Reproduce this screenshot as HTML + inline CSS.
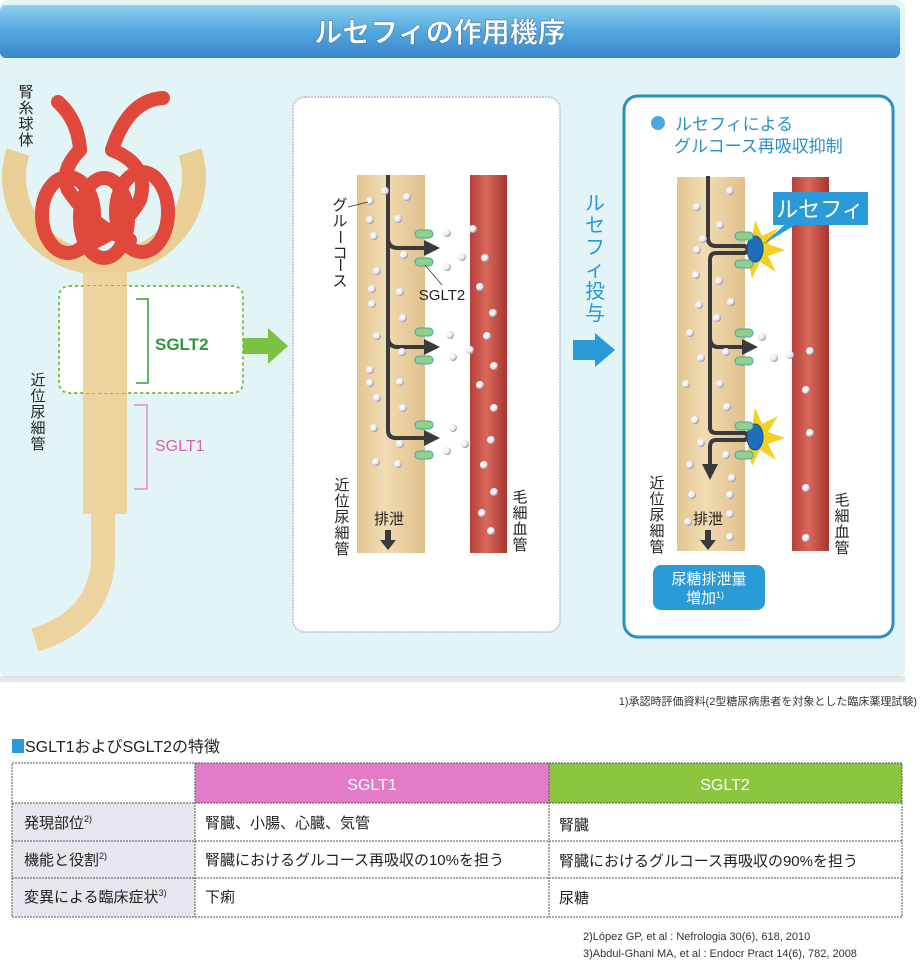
<!DOCTYPE html>
<html><head><meta charset="utf-8"><style>
html,body{margin:0;padding:0;background:#fff;}
svg{display:block;font-family:"Liberation Sans","Noto Sans CJK JP",sans-serif;}
</style></head><body>
<svg width="920" height="969" viewBox="0 0 920 969" xmlns="http://www.w3.org/2000/svg">
<defs>
<linearGradient id="hdr" x1="0" y1="0" x2="0" y2="1"><stop offset="0" stop-color="#8fd0ee"/><stop offset="0.5" stop-color="#52a7de"/><stop offset="1" stop-color="#3a86cc"/></linearGradient>
<linearGradient id="tub" x1="0" y1="0" x2="1" y2="0"><stop offset="0" stop-color="#e3c48f"/><stop offset="0.4" stop-color="#f1dcb4"/><stop offset="1" stop-color="#e0c08a"/></linearGradient>
<linearGradient id="cap" x1="0" y1="0" x2="1" y2="0"><stop offset="0" stop-color="#b8403a"/><stop offset="0.45" stop-color="#d9685a"/><stop offset="1" stop-color="#a8352f"/></linearGradient>
<radialGradient id="dot" cx="0.35" cy="0.35" r="0.7"><stop offset="0" stop-color="#fff"/><stop offset="0.6" stop-color="#e8e8ee"/><stop offset="1" stop-color="#8a8aa0"/></radialGradient>
<marker id="ah" markerWidth="4" markerHeight="4" refX="2" refY="2" orient="auto" markerUnits="strokeWidth"><path d="M0,0 L4,2 L0,4 z" fill="#3a3a3a"/></marker>
</defs>
<rect x="0" y="0" width="905" height="678" rx="8" fill="#e3f4f7"/>
<rect x="0" y="676" width="905" height="6" fill="#d6d6de" opacity="0.6"/>
<rect x="0" y="5" width="900" height="53" rx="6" fill="url(#hdr)"/>
<text x="440" y="42" text-anchor="middle" font-size="28" font-weight="bold" fill="#fff" stroke="#3b6fa8" stroke-width="0.5">ルセフィの作用機序</text>

<g font-size="15" fill="#222">
<text x="26" y="97" text-anchor="middle">腎</text><text x="26" y="113" text-anchor="middle">糸</text><text x="26" y="129" text-anchor="middle">球</text><text x="26" y="145" text-anchor="middle">体</text>
<text x="38" y="385" text-anchor="middle">近</text><text x="38" y="401" text-anchor="middle">位</text><text x="38" y="417" text-anchor="middle">尿</text><text x="38" y="433" text-anchor="middle">細</text><text x="38" y="449" text-anchor="middle">管</text>
</g>
<path d="M18,152 A90,86 0 1 0 190,152" fill="none" stroke="#e9cf95" stroke-width="24"/>
<rect x="83" y="272" width="44" height="242" fill="#ecd3a0"/>
<path d="M103,512 L103,560 Q100,620 35,640" fill="none" stroke="#ecd3a0" stroke-width="24"/>
<g fill="none" stroke="#e0483c" stroke-width="14" stroke-linecap="round">
<path d="M58,102 Q78,120 80,150"/>
<path d="M163,98 Q128,100 112,150"/>
<ellipse cx="68" cy="215" rx="26" ry="38"/>
<ellipse cx="104" cy="218" rx="24" ry="40"/>
<ellipse cx="142" cy="212" rx="26" ry="40"/>
<path d="M80,150 Q60,170 68,190 Q95,230 130,240"/>
<path d="M112,150 Q150,165 140,200 Q120,235 85,245"/>
</g>
<rect x="59" y="286" width="184" height="107" rx="10" fill="#fff" stroke="#7cc242" stroke-width="2" stroke-dasharray="3,3"/>
<rect x="83" y="286" width="44" height="107" fill="#ecd3a0"/>
<path d="M136,299 H148 V383 H136" fill="none" stroke="#3a9a3a" stroke-width="1.5"/>
<text x="155" y="350" font-size="17" font-weight="bold" fill="#2e9a3a">SGLT2</text>
<path d="M134,405 H147 V489 H134" fill="none" stroke="#e060a8" stroke-width="1"/>
<text x="155" y="451" font-size="16" fill="#e060a8">SGLT1</text>
<path d="M243,338 H268 V328 L288,346 L268,364 V354 H243 z" fill="#7cc242"/>

<rect x="293" y="97" width="267" height="535" rx="12" fill="#fff" stroke="#c8c8dc" stroke-width="2" stroke-dasharray="2,1"/>
<rect x="357" y="175" width="68" height="378" fill="url(#tub)"/>
<rect x="470" y="175" width="37" height="378" fill="url(#cap)"/>
<g fill="none" stroke="#3a3a3a" stroke-width="4">
<path d="M388,175 V430 Q388,438 396,438 H432" marker-end="url(#ah)"/>
<path d="M388,238 Q388,248 398,248 H432" marker-end="url(#ah)"/>
<path d="M388,337 Q388,347 398,347 H432" marker-end="url(#ah)"/>
</g>
<g fill="#8fd08a" stroke="#4aa0b0" stroke-width="1">
<rect x="415" y="230" width="18" height="8" rx="4"/><rect x="415" y="258" width="18" height="8" rx="4"/>
<rect x="415" y="328" width="18" height="8" rx="4"/><rect x="415" y="356" width="18" height="8" rx="4"/>
<rect x="415" y="421" width="18" height="8" rx="4"/><rect x="415" y="451" width="18" height="8" rx="4"/>
</g>
<g fill="url(#dot)">
<circle cx="385" cy="191" r="4"/><circle cx="370" cy="201" r="4"/><circle cx="407" cy="197" r="4"/><circle cx="370" cy="220" r="4"/><circle cx="398" cy="219" r="4"/><circle cx="374" cy="236" r="4"/><circle cx="404" cy="255" r="4"/><circle cx="377" cy="271" r="4"/><circle cx="372" cy="289" r="4"/><circle cx="400" cy="292" r="4"/><circle cx="372" cy="304" r="4"/><circle cx="403" cy="318" r="4"/><circle cx="377" cy="336" r="4"/><circle cx="402" cy="352" r="4"/><circle cx="370" cy="370" r="4"/><circle cx="370" cy="383" r="4"/><circle cx="400" cy="382" r="4"/><circle cx="377" cy="398" r="4"/><circle cx="403" cy="408" r="4"/><circle cx="374" cy="428" r="4"/><circle cx="400" cy="444" r="4"/><circle cx="376" cy="462" r="4"/><circle cx="398" cy="464" r="4"/>
<circle cx="447" cy="233" r="4"/><circle cx="462" cy="257" r="4"/><circle cx="447" cy="267" r="4"/><circle cx="450" cy="335" r="4"/><circle cx="453" cy="357" r="4"/><circle cx="453" cy="428" r="4"/><circle cx="447" cy="451" r="4"/><circle cx="465" cy="444" r="4"/>
<circle cx="473" cy="229" r="4"/><circle cx="485" cy="258" r="4"/><circle cx="480" cy="287" r="4"/><circle cx="493" cy="313" r="4"/><circle cx="487" cy="336" r="4"/><circle cx="470" cy="350" r="4"/><circle cx="494" cy="366" r="4"/><circle cx="480" cy="385" r="4"/><circle cx="494" cy="408" r="4"/><circle cx="491" cy="440" r="4"/><circle cx="484" cy="465" r="4"/><circle cx="494" cy="492" r="4"/><circle cx="482" cy="513" r="4"/><circle cx="491" cy="531" r="4"/>
</g>
<line x1="348" y1="207" x2="368" y2="202" stroke="#333" stroke-width="0.8"/>
<line x1="425" y1="265" x2="442" y2="285" stroke="#333" stroke-width="0.8"/>
<g font-size="15" fill="#222" text-anchor="middle">
<text x="340" y="210">グ</text><text x="340" y="226">ル</text><text x="340" y="242" transform="rotate(90 340 237)">ー</text><text x="340" y="258">コ</text><text x="340" y="270" transform="rotate(90 340 265)">ー</text><text x="340" y="286">ス</text>
<text x="342" y="490">近</text><text x="342" y="506">位</text><text x="342" y="522">尿</text><text x="342" y="538">細</text><text x="342" y="554">管</text>
<text x="520" y="502">毛</text><text x="520" y="518">細</text><text x="520" y="534">血</text><text x="520" y="550">管</text>
<text x="389" y="524">排泄</text>
</g>
<text x="442" y="300" font-size="15" fill="#222" text-anchor="middle">SGLT2</text>
<path d="M385,530 V540 H380 L388,550 L396,540 H391 V530 z" fill="#3a3a3a"/>

<g font-size="20" fill="#2a9ad8" text-anchor="middle">
<text x="595" y="210">ル</text><text x="595" y="232">セ</text><text x="595" y="254">フ</text><text x="595" y="276">ィ</text><text x="595" y="298">投</text><text x="595" y="320">与</text>
</g>
<path d="M573,340 H595 V333 L615,350 L595,367 V360 H573 z" fill="#2a9ad8"/>

<rect x="624" y="96" width="269" height="541" rx="14" fill="#fff" stroke="#2a8fc8" stroke-width="3"/>
<circle cx="658" cy="123" r="7" fill="#4aa8e0"/>
<text x="675" y="130" font-size="17" fill="#2a8fd0">ルセフィによる</text>
<text x="674" y="152" font-size="17" fill="#2a8fd0">グルコース再吸収抑制</text>
<rect x="677" y="177" width="68" height="374" fill="url(#tub)"/>
<rect x="792" y="177" width="37" height="374" fill="url(#cap)"/>
<g fill="none" stroke="#3a3a3a" stroke-width="4">
<path d="M708,176 V238 Q708,246 716,246 H745 Q750,249 745,253 H716 Q710,253 710,260 V427 Q710,433 716,433 H745 Q750,436 745,440 H716 Q710,440 710,447 V472" marker-end="url(#ah)"/>
<path d="M710,337 Q710,347 718,347 H750" marker-end="url(#ah)"/>
</g>
<g fill="#f5d020">
<polygon points="755,220 762,236 778,228 768,244 785,250 768,256 776,272 760,262 752,278 748,262"/>
<polygon points="755,408 762,424 778,416 768,432 785,438 768,444 776,460 760,450 752,466 748,450"/>
</g>
<g fill="#1f6fb8" stroke="#0e4f90"><ellipse cx="755" cy="249" rx="8" ry="13"/><ellipse cx="755" cy="437" rx="8" ry="13"/></g>
<g fill="#8fd08a" stroke="#4aa0b0" stroke-width="1">
<rect x="735" y="232" width="18" height="8" rx="4"/><rect x="735" y="260" width="18" height="8" rx="4"/>
<rect x="735" y="329" width="18" height="8" rx="4"/><rect x="735" y="357" width="18" height="8" rx="4"/>
<rect x="735" y="422" width="18" height="8" rx="4"/><rect x="735" y="451" width="18" height="8" rx="4"/>
</g>
<polygon points="762,245 790,220 800,222" fill="#2a9ad8"/>
<rect x="773" y="192" width="95" height="33" fill="#2a9ad8"/>
<text x="820" y="217" font-size="22" fill="#fff" text-anchor="middle">ルセフィ</text>
<g fill="url(#dot)">
<circle cx="730" cy="191" r="4"/><circle cx="697" cy="207" r="4"/><circle cx="720" cy="225" r="4"/><circle cx="703" cy="239" r="4"/><circle cx="697" cy="250" r="4"/><circle cx="696" cy="275" r="4"/><circle cx="719" cy="281" r="4"/><circle cx="699" cy="305" r="4"/><circle cx="731" cy="302" r="4"/><circle cx="717" cy="318" r="4"/><circle cx="690" cy="333" r="4"/><circle cx="726" cy="352" r="4"/><circle cx="701" cy="358" r="4"/><circle cx="686" cy="384" r="4"/><circle cx="720" cy="384" r="4"/><circle cx="727" cy="407" r="4"/><circle cx="695" cy="420" r="4"/><circle cx="701" cy="443" r="4"/><circle cx="726" cy="455" r="4"/><circle cx="690" cy="465" r="4"/><circle cx="732" cy="478" r="4"/><circle cx="692" cy="495" r="4"/><circle cx="730" cy="495" r="4"/><circle cx="688" cy="522" r="4"/><circle cx="730" cy="514" r="4"/><circle cx="730" cy="537" r="4"/>
<circle cx="762" cy="337" r="4"/><circle cx="774" cy="358" r="4"/><circle cx="790" cy="355" r="4"/><circle cx="810" cy="351" r="4"/><circle cx="806" cy="390" r="4"/><circle cx="810" cy="433" r="4"/><circle cx="806" cy="488" r="4"/><circle cx="806" cy="538" r="4"/>
</g>
<g font-size="15" fill="#222" text-anchor="middle">
<text x="657" y="488">近</text><text x="657" y="504">位</text><text x="657" y="520">尿</text><text x="657" y="536">細</text><text x="657" y="552">管</text>
<text x="842" y="505">毛</text><text x="842" y="521">細</text><text x="842" y="537">血</text><text x="842" y="553">管</text>
<text x="708" y="524">排泄</text>
</g>
<path d="M705,530 V540 H700 L708,550 L716,540 H711 V530 z" fill="#3a3a3a"/>
<rect x="653" y="565" width="112" height="45" rx="8" fill="#2a9ad8"/>
<text x="709" y="584" font-size="15" fill="#fff" text-anchor="middle">尿糖排泄量</text>
<text x="705" y="603" font-size="15" fill="#fff" text-anchor="middle">増加<tspan font-size="9" dy="-5">1)</tspan></text>

<text x="917" y="705" font-size="11" fill="#333" text-anchor="end">1)承認時評価資料(2型糖尿病患者を対象とした臨床薬理試験)</text>

<rect x="12" y="739" width="12" height="14" fill="#2a9ad8"/>
<text x="25" y="752" font-size="16" fill="#222">SGLT1およびSGLT2の特徴</text>
<rect x="195" y="763" width="354" height="40" fill="#e27cc8"/>
<rect x="549" y="763" width="353" height="40" fill="#8cc63f"/>
<rect x="12" y="803" width="183" height="114" fill="#e6e6ef"/>
<g stroke="#555" stroke-width="1" stroke-dasharray="2,1" fill="none">
<rect x="12" y="763" width="890" height="154"/>
<line x1="12" y1="803" x2="902" y2="803"/><line x1="12" y1="841" x2="902" y2="841"/><line x1="12" y1="878" x2="902" y2="878"/>
<line x1="195" y1="763" x2="195" y2="917"/><line x1="549" y1="763" x2="549" y2="917"/>
</g>
<text x="372" y="790" font-size="16" fill="#fff" text-anchor="middle">SGLT1</text>
<text x="725" y="790" font-size="16" fill="#fff" text-anchor="middle">SGLT2</text>
<g font-size="15" fill="#222">
<text x="24" y="828">発現部位<tspan font-size="9" dy="-6">2)</tspan></text>
<text x="24" y="865">機能と役割<tspan font-size="9" dy="-6">2)</tspan></text>
<text x="24" y="902">変異による臨床症状<tspan font-size="9" dy="-6">3)</tspan></text>
<text x="205" y="828">腎臓、小腸、心臓、気管</text>
<text x="205" y="865">腎臓におけるグルコース再吸収の10%を担う</text>
<text x="205" y="902">下痢</text>
<text x="559" y="830">腎臓</text>
<text x="559" y="866">腎臓におけるグルコース再吸収の90%を担う</text>
<text x="559" y="903">尿糖</text>
</g>
<text x="583" y="940" font-size="11" fill="#333">2)López GP, et al : Nefrologia 30(6), 618, 2010</text>
<text x="583" y="957" font-size="11" fill="#333">3)Abdul-Ghani MA, et al : Endocr Pract 14(6), 782, 2008</text>
</svg>
</body></html>
